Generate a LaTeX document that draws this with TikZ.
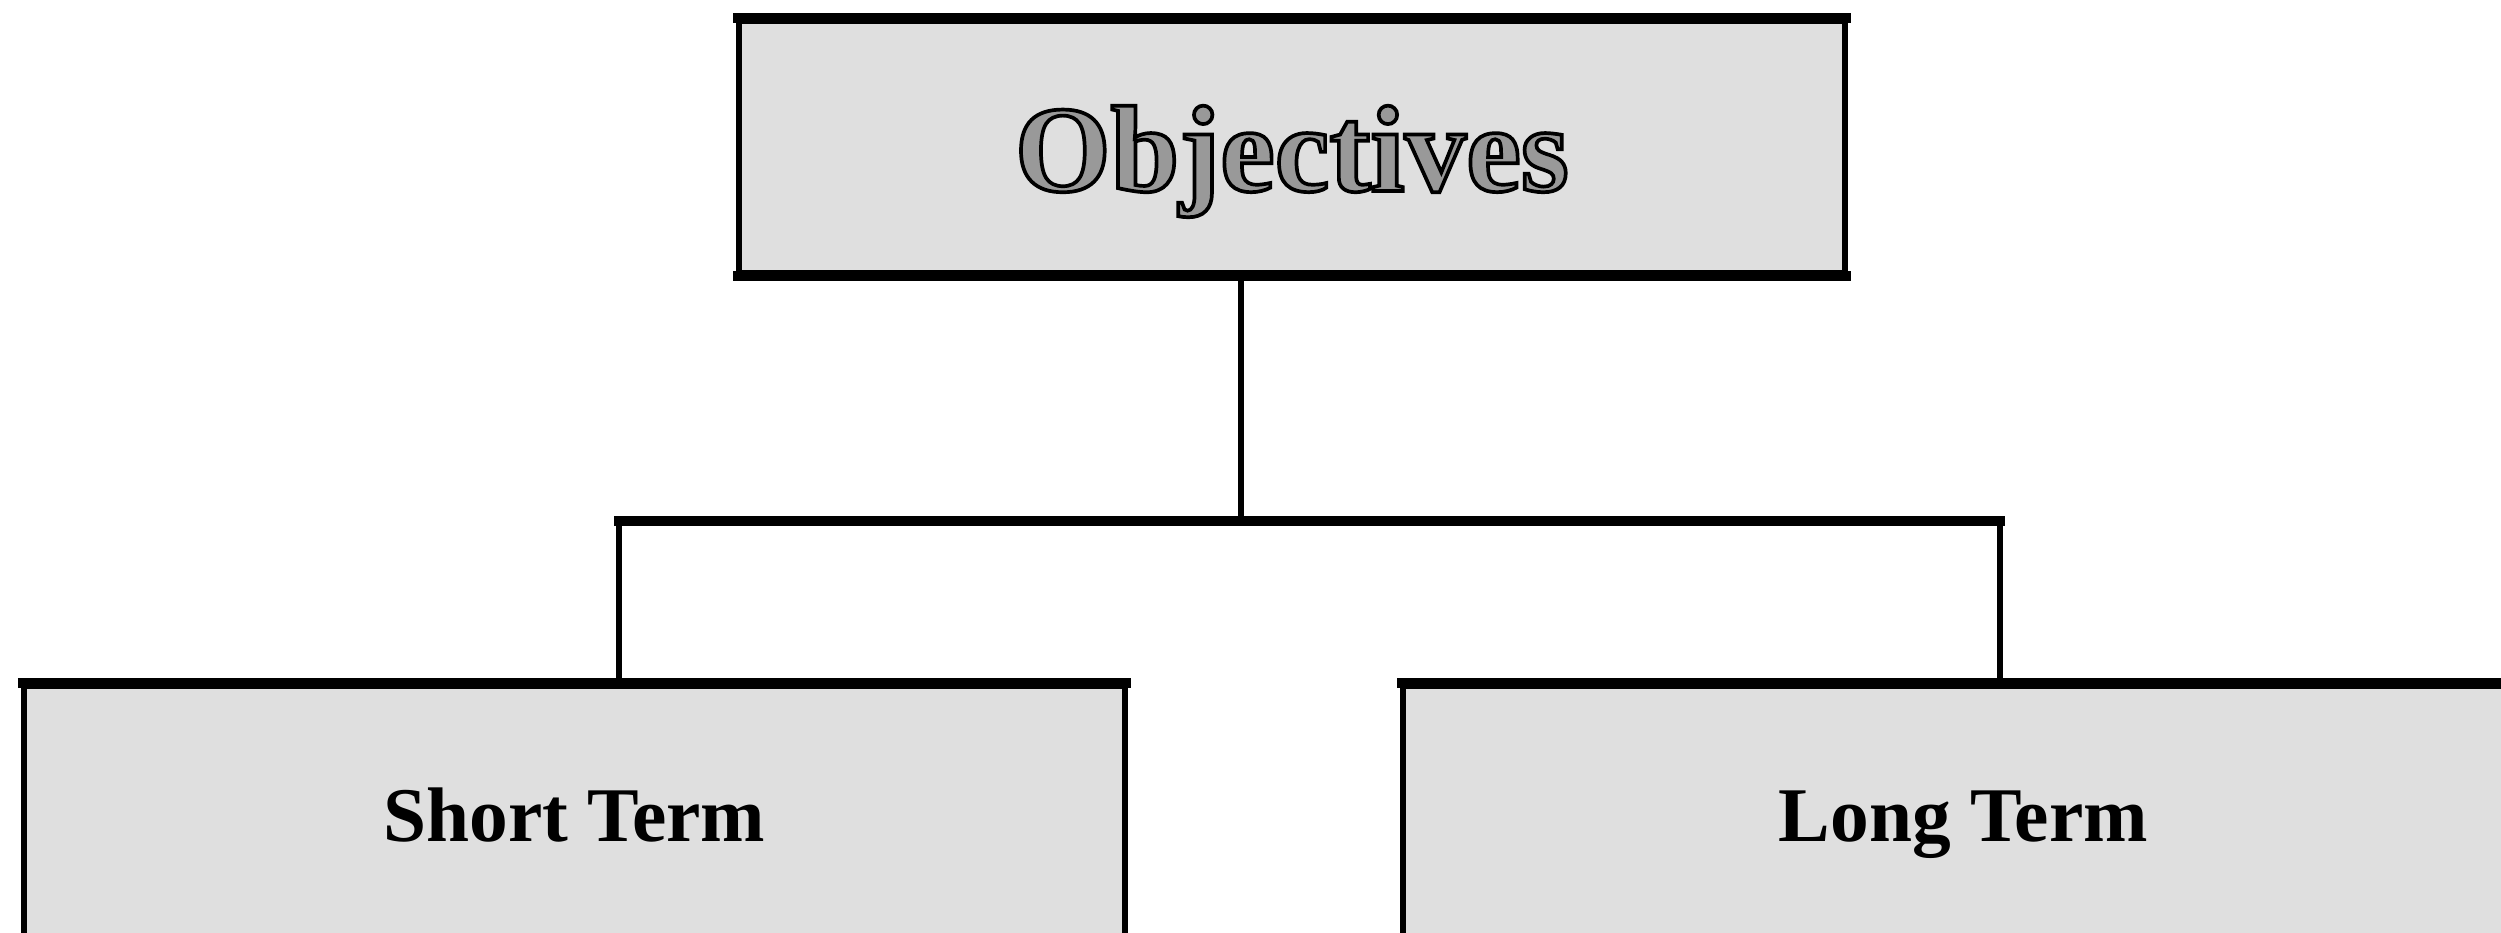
\documentclass[tikz,border=0pt]{standalone}
\usepackage{fontspec}
\setmainfont{Liberation Serif}
\newfontfamily\objfont{Liberation Serif Bold}[FakeBold=3]
\definecolor{boxfill}{HTML}{DFDFDF}
\newcommand{\outlinedtext}[1]{\special{pdf:bcolor [0.6] [0]}#1\special{pdf:ecolor}}
\begin{document}
\begin{tikzpicture}[x=0.01cm,y=-0.01cm,
  box/.style={draw=black, fill=boxfill, line width=0.06cm, anchor=north west,
    inner sep=0pt, text depth=0pt, align=center},
  border/.style={line width=0.10cm, shorten <=-0.03cm, shorten >=-0.03cm},
  hline/.style={line width=0.10cm, line cap=rect},
  vline/.style={line width=0.06cm}]
\useasboundingbox (0,0) rectangle (2501,932);
\clip (0,0) rectangle (2501,932);
\node[box, minimum width=11.05cm, minimum height=2.52cm, text height=25pt,
  font=\fontsize{35}{40}\objfont] (obj) at (736,18)
  {\outlinedtext{Objectives}};
\node[box, minimum width=11.0cm, minimum height=2.62cm, text height=14pt,
  font=\fontsize{22}{26}\selectfont\bfseries] (short) at (21,683) {Short Term};
\node[box, minimum width=11.2cm, minimum height=2.62cm, text height=14pt,
  font=\fontsize{22}{26}\selectfont\bfseries] (long) at (1400,683) {Long Term};
% thicker horizontal borders
\draw[border] (obj.north west) -- (obj.north east);
\draw[border] (obj.south west) -- (obj.south east);
\draw[border] (short.north west) -- (short.north east);
\draw[border] (long.north west) -- (long.north east);
% connectors
\coordinate (jc) at (1241,521);
\coordinate (jl) at (619,521);
\coordinate (jr) at (2000,521);
\draw[vline] (obj.south -| jc) -- (jc);
\draw[hline] (jl) -- (jr);
\draw[vline] (jl) -- (jl |- short.north);
\draw[vline] (jr) -- (jr |- long.north);
\end{tikzpicture}
\end{document}
